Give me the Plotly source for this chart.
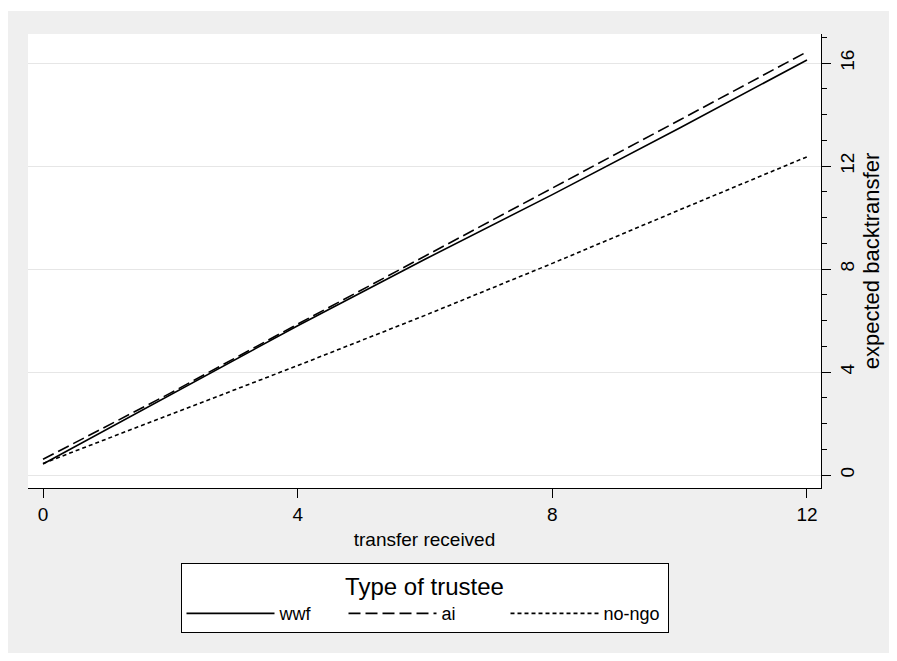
import plotly.graph_objects as go

x_vals = [0, 2, 4, 6, 8, 10, 12]
wwf = [0.43, 3.10, 5.80, 8.38, 10.89, 13.48, 16.12]
ai = [0.61, 3.18, 5.86, 8.50, 11.12, 13.79, 16.44]
no_ngo = [0.45, 2.36, 4.25, 6.20, 8.22, 10.30, 12.36]

series_names = ["wwf", "ai", "no-ngo"]
x_ticks = [0, 4, 8, 12]
y_ticks = [0, 4, 8, 12, 16]

FONT = "Liberation Sans, Arial, sans-serif"
# the page places the figure at (8, 8) inside the 897x661 window
OFF = 8
W, H = 897 - 2 * OFF, 661 - 2 * OFF
ML, MT = 28 - OFF, 34 - OFF
MR = W - (821 - OFF)
MB = H - (488 - OFF)
PW, PH = W - ML - MR, H - MT - MB

fig = go.Figure()
styles = [("solid", wwf), ("12px,5px", ai), ("4px,3px", no_ngo)]
for name, (dash, ys) in zip(series_names, styles):
    fig.add_trace(go.Scatter(x=x_vals, y=ys, mode="lines", name=name,
                             line=dict(color="black", width=1.6, dash=dash)))

def px2paper_x(px):
    return (px - OFF - ML) / PW

def py2paper_y(py):
    return (H - MB - (py - OFF)) / PH

shapes = [
    dict(type="rect", xref="paper", yref="paper",
         x0=px2paper_x(OFF), x1=px2paper_x(OFF + W), y0=py2paper_y(11), y1=py2paper_y(OFF),
         fillcolor="white", line=dict(width=0)),
]

fig.update_layout(
    width=W, height=H,
    margin=dict(l=ML, r=MR, t=MT, b=MB, autoexpand=False),
    paper_bgcolor="#efefef",
    plot_bgcolor="white",
    font=dict(family=FONT, color="black", size=16),
    shapes=shapes,
    showlegend=True,
    legend=dict(
        orientation="h", x=0.5, xanchor="center", y=py2paper_y(563), yanchor="top",
        bgcolor="white", bordercolor="black", borderwidth=1,
        font=dict(size=18, family=FONT),
        title=dict(text="Type of trustee", side="top center", font=dict(size=24, family=FONT)),
        entrywidth=59, entrywidthmode="pixels",
        itemwidth=88,
    ),
    xaxis=dict(
        range=[-0.236, 12.22], tickvals=x_ticks, ticktext=[str(v) for v in x_ticks],
        ticks="outside", ticklen=9, tickcolor="black", tickwidth=1,
        showline=True, linecolor="black", linewidth=1.3, mirror=False,
        showgrid=False, zeroline=False,
        tickfont=dict(size=19, family=FONT),
        title=dict(text="transfer received", font=dict(size=19, family=FONT), standoff=8),
    ),
    yaxis=dict(
        side="right", range=[-0.505, 17.13], tickvals=y_ticks, ticktext=[str(v) for v in y_ticks],
        ticks="outside", ticklen=9, tickcolor="black", tickwidth=1, tickangle=-90,
        showline=True, linecolor="black", linewidth=1.3,
        showgrid=True, gridcolor="#e6e6e6", gridwidth=1.3, zeroline=False,
        minor=dict(dtick=1, ticks="outside", ticklen=5, tickcolor="black", showgrid=False),
        tickfont=dict(size=19, family=FONT),
        title=dict(text="expected backtransfer", font=dict(size=22, family=FONT), standoff=6),
    ),
)

fig.write_html("out.html")
